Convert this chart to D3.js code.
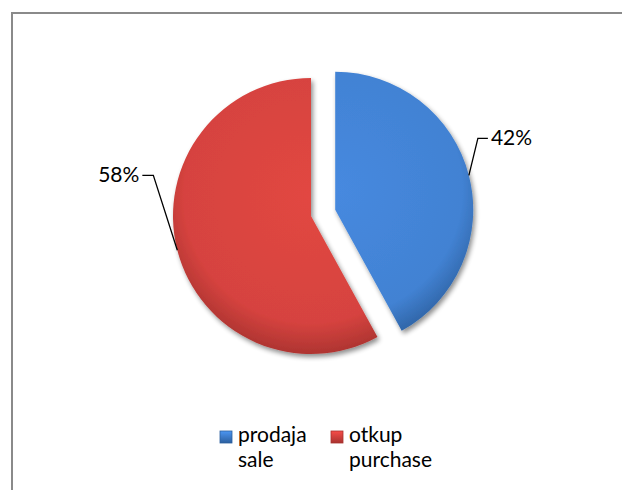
<!DOCTYPE html>
<html lang="en">
<head>
    <meta charset="UTF-8">
    <title>prodaja / otkup</title>
    <script src="https://d3js.org/d3.v7.min.js"></script>
    <style>
        body{
            padding:0;
            margin:0;
            background:#fff;
        }
        #misvg{
            display:block;
        }
    </style>
</head>
<body>

<svg id="misvg"></svg>

<script>
    // data
    let categorias = ["prodaja sale", "otkup purchase"]
    let lineasLeyenda = [["prodaja", "sale"], ["otkup", "purchase"]]
    let valores = [42, 58]
    let etiquetas = ["42%", "58%"]

    let svgw = 622;
    let svgh = 490;
    let centro = {x:311, y:216}
    let radio = 138
    let explotar = [25, 0]   // explode distance per slice
    let colores = ["#4282d3", "#d6433f"]
    let oscuros = ["#2c5f9e", "#a8322f"]

    let svg = d3.select("#misvg")
        .attr('width', svgw)
        .attr('height', svgh)
        .style('font-family', 'Lato, "Open Sans", sans-serif')

    // chart frame (cut off at right/bottom like the original)
    svg.append('rect')
        .attr('x', 12).attr('y', 13)
        .attr('width', 640).attr('height', 500)
        .attr('fill', 'none')
        .attr('stroke', '#8a8a8a')
        .attr('stroke-width', 2)

    let defs = svg.append('defs')

    let sombra = defs.append('filter').attr('id', 'sombra')
        .attr('x', '-20%').attr('y', '-20%').attr('width', '140%').attr('height', '140%')
    sombra.append('feGaussianBlur').attr('in', 'SourceAlpha').attr('stdDeviation', 2.5)
    sombra.append('feOffset').attr('dx', 2).attr('dy', 3).attr('result', 'b')
    sombra.append('feComponentTransfer').append('feFuncA').attr('type', 'linear').attr('slope', 0.45)
    let merge = sombra.append('feMerge')
    merge.append('feMergeNode')
    merge.append('feMergeNode').attr('in', 'SourceGraphic')

    colores.forEach((c, i) => {
        let g = defs.append('radialGradient').attr('id', 'grad' + i)
            .attr('gradientUnits', 'userSpaceOnUse')
            .attr('cx', 0).attr('cy', -20).attr('r', radio + 25)
        g.append('stop').attr('offset', '0%').attr('stop-color', d3.color(c).brighter(0.15))
        g.append('stop').attr('offset', '78%').attr('stop-color', c)
        g.append('stop').attr('offset', '100%').attr('stop-color', oscuros[i])

        let lg = defs.append('linearGradient').attr('id', 'leg' + i)
            .attr('x1', 0).attr('y1', 0).attr('x2', 0).attr('y2', 1)
        lg.append('stop').attr('offset', '0%').attr('stop-color', d3.color(c).brighter(0.4))
        lg.append('stop').attr('offset', '100%').attr('stop-color', oscuros[i])
    })

    let pie = d3.pie().sort(null).value(d => d)
    let arcos = pie(valores)
    let arco = d3.arc().innerRadius(0).outerRadius(radio)

    function desplaz(d, i) {
        let a = (d.startAngle + d.endAngle) / 2
        return [Math.sin(a) * explotar[i], -Math.cos(a) * explotar[i]]
    }

    let g = svg.append('g')
        .attr('transform', `translate(${centro.x},${centro.y})`)

    g.selectAll('path.porcion')
        .data(arcos)
        .enter().append('path')
        .attr('class', 'porcion')
        .attr('transform', (d, i) => `translate(${desplaz(d, i)})`)
        .attr('d', arco)
        .attr('fill', (d, i) => `url(#grad${i})`)
        .attr('filter', 'url(#sombra)')

    // leader lines + labels (elbow offsets relative to the edge point)
    let codo = [[9, -37], [-24, -75]]
    let brazo = [10, -11]

    arcos.forEach((d, i) => {
        let a = (d.startAngle + d.endAngle) / 2
        let dd = desplaz(d, i)
        let p0 = [dd[0] + Math.sin(a) * radio, dd[1] - Math.cos(a) * radio]
        let p1 = [p0[0] + codo[i][0], p0[1] + codo[i][1]]
        let p2 = [p1[0] + brazo[i], p1[1]]
        g.append('path')
            .attr('d', d3.line()([p0, p1, p2]))
            .attr('fill', 'none')
            .attr('stroke', '#000')
            .attr('stroke-width', 1.3)
        g.append('text')
            .attr('x', p2[0] + (brazo[i] > 0 ? 3 : -3))
            .attr('y', p2[1] + 7)
            .attr('text-anchor', brazo[i] > 0 ? 'start' : 'end')
            .attr('font-size', 21)
            .attr('fill', '#000')
            .text(etiquetas[i])
    })

    // legend
    let escalaLey = d3.scalePoint()
        .domain(categorias)
        .range([220, 331])

    let ley = svg.append('g')
        .selectAll('g')
        .data(categorias)
        .enter().append('g')
        .attr('transform', d => `translate(${escalaLey(d)},431)`)

    ley.append('rect')
        .attr('width', 12).attr('height', 12)
        .attr('fill', (d, i) => `url(#leg${i})`)
        .attr('stroke', (d, i) => oscuros[i])
        .attr('stroke-width', 0.8)

    ley.append('text')
        .attr('x', 18).attr('y', 11)
        .attr('font-size', 21)
        .attr('fill', '#000')
        .selectAll('tspan')
        .data((d, i) => lineasLeyenda[i])
        .enter().append('tspan')
        .attr('x', 18)
        .attr('dy', (d, j) => j === 0 ? 0 : 25)
        .text(d => d)
</script>

</body>
</html>
